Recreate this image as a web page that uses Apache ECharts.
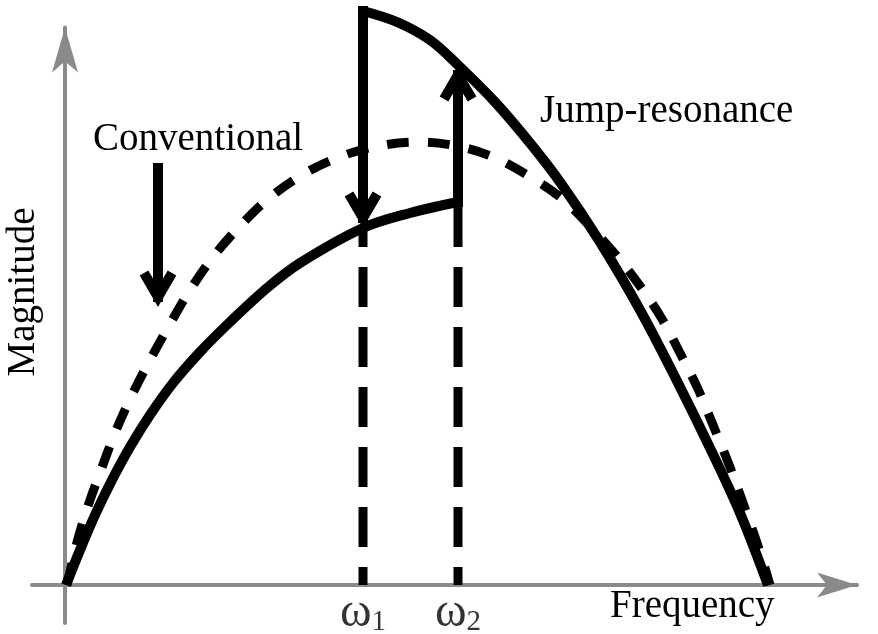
<!DOCTYPE html>
<html>
<head>
<meta charset="utf-8">
<script src="https://cdn.jsdelivr.net/npm/echarts@6/dist/echarts.min.js"></script>
<style>
  html, body { margin: 0; padding: 0; background: #fff; }
  #chart { width: 878px; height: 634px; }
</style>
</head>
<body>
<div id="chart"></div>
<script>
// Frequency response sketch: conventional vs. jump-resonance magnitude curves.
// Units are arbitrary (frequency along x, magnitude along y).

// Jump frequencies ω1 and ω2 and their subscripts
const jumpFrequencies = [298, 393];
const jumpSubscripts = ['1', '2'];

// Conventional response (dashed)
const conventional = [
  [2, 0], [8, 26], [14, 50], [24, 82], [36, 115], [50, 152], [67, 190], [85, 225],
  [105, 261], [125, 295], [148, 328], [175, 359], [203, 386], [237, 410], [272, 427],
  [308, 438], [352, 443], [392, 439], [428, 428], [462, 410], [495, 388], [522, 362],
  [550, 331], [575, 299], [597, 266], [615, 232], [633, 196], [648, 160], [663, 123],
  [677, 85], [690, 48], [700, 17], [705, 0]
];

// Jump-resonance response, lower branch (rising, up to ω2)
const jumpLower = [
  [1, 0], [15, 35], [30, 70], [47, 105], [65, 138], [85, 170], [108, 202], [135, 233],
  [165, 263], [202, 297], [235, 322], [298, 357], [345, 372], [393, 383]
];

// Jump-resonance response, upper branch (from ω1, falling)
const jumpUpper = [
  [298, 574], [332, 563], [365, 545], [393, 520], [430, 483], [465, 442], [495, 403],
  [535, 343], [575, 275], [610, 208], [645, 137], [675, 72], [703, 0]
];

// Pointer under the "Conventional" label: [x, yStart, x, yEnd]
const conventionalPointer = [93, 417, 93, 278];

const valueAt = (curve, x) => curve.find(p => p[0] === x)[1];
const w1 = jumpFrequencies[0];
const w2 = jumpFrequencies[1];

// Jump arrows: drop at ω1 (upper -> lower), rise at ω2 (lower -> upper)
const arrows = [
  conventionalPointer,
  [w1, valueAt(jumpUpper, w1), w1, valueAt(jumpLower, w1)],
  [w2, valueAt(jumpLower, w2), w2, valueAt(jumpUpper, w2)]
];

const SERIF = '"Liberation Serif", "Times New Roman", serif';
const INK = '#000';
const AXIS = '#8a8a8a';

function arrowItem(params, api) {
  const a = api.coord([api.value(0), api.value(1)]);
  const b = api.coord([api.value(2), api.value(3)]);
  const dx = b[0] - a[0], dy = b[1] - a[1];
  const len = Math.hypot(dx, dy);
  const ux = dx / len, uy = dy / len;
  const nx = -uy, ny = ux;
  const tip = [b[0] - ux * 10, b[1] - uy * 10];
  const back = 24, half = 14;
  const p1 = [tip[0] - ux * back + nx * half, tip[1] - uy * back + ny * half];
  const p2 = [tip[0] - ux * back - nx * half, tip[1] - uy * back - ny * half];
  return {
    type: 'group',
    children: [
      { type: 'line', shape: { x1: a[0], y1: a[1], x2: tip[0], y2: tip[1] },
        style: { stroke: INK, lineWidth: 10, lineCap: 'square' } },
      { type: 'polyline', shape: { points: [p1, tip, p2] },
        style: { stroke: INK, fill: null, lineWidth: 10, lineJoin: 'miter', lineCap: 'butt' } }
    ]
  };
}

function verticalGuide(x, yTop, offset) {
  return {
    type: 'line',
    data: [[x, yTop], [x, 0]],
    showSymbol: false,
    silent: true,
    clip: false,
    lineStyle: { color: INK, width: 9, type: [40, 20], dashOffset: offset, cap: 'butt' },
    z: 3
  };
}

function curve(name, data, style, z) {
  return {
    name: name,
    type: 'line',
    data: data,
    smooth: 0.35,
    showSymbol: false,
    silent: true,
    clip: false,
    lineStyle: Object.assign({ color: INK, cap: 'butt', join: 'round' }, style),
    z: z
  };
}

const chart = echarts.init(document.getElementById('chart'), null, { renderer: 'canvas' });

chart.setOption({
  animation: false,
  backgroundColor: '#fff',
  grid: { left: 32, right: 21, top: 27.5, bottom: 11, containLabel: false, outerBoundsMode: 'none' },
  xAxis: {
    type: 'value',
    min: -33,
    max: 792,
    axisLine: {
      onZero: true,
      symbol: ['none', 'arrow'],
      symbolSize: [18.75, 40],
      lineStyle: { color: AXIS, width: 4 }
    },
    axisTick: { show: false },
    splitLine: { show: false },
    axisLabel: { show: false }
  },
  yAxis: {
    type: 'value',
    min: -38,
    max: 557.5,
    axisLine: {
      onZero: true,
      symbol: ['none', 'arrow'],
      symbolSize: [19.5, 45],
      lineStyle: { color: AXIS, width: 4 }
    },
    axisTick: { show: false },
    splitLine: { show: false },
    axisLabel: { show: false }
  },
  series: [
    curve('Conventional', conventional, { width: 9, type: [22, 19] }, 2),
    verticalGuide(w1, valueAt(jumpLower, w1), 21),
    verticalGuide(w2, valueAt(jumpLower, w2), 55),
    curve('Jump-resonance (lower)', jumpLower, { width: 10 }, 4),
    curve('Jump-resonance (upper)', jumpUpper, { width: 10 }, 4),
    {
      name: 'Arrows',
      type: 'custom',
      data: arrows,
      renderItem: arrowItem,
      encode: { x: [0, 2], y: [1, 3] },
      clip: false,
      silent: true,
      z: 5
    },
    {
      name: 'Jump frequencies',
      type: 'scatter',
      data: jumpFrequencies.map((f, i) => [f, 0, i]),
      symbolSize: 0,
      silent: true,
      clip: false,
      label: {
        show: true,
        position: 'bottom',
        distance: 4,
        formatter: p => '{w|ω}{s|' + jumpSubscripts[p.data[2]] + '}',
        rich: {
          w: { fontFamily: SERIF, fontSize: 48, lineHeight: 48, color: INK, verticalAlign: 'middle' },
          s: { fontFamily: SERIF, fontSize: 29, lineHeight: 18, color: INK, verticalAlign: 'bottom' }
        }
      },
      z: 6
    }
  ],
  graphic: [
    { type: 'text', x: 93, y: 140, style: { text: 'Conventional', fontFamily: SERIF, fontSize: 39, fill: INK, align: 'left', verticalAlign: 'middle' } },
    { type: 'text', x: 540, y: 112, style: { text: 'Jump-resonance', fontFamily: SERIF, fontSize: 39, fill: INK, align: 'left', verticalAlign: 'middle' } },
    { type: 'text', x: 610, y: 607, style: { text: 'Frequency', fontFamily: SERIF, fontSize: 39, fill: INK, align: 'left', verticalAlign: 'middle' } },
    { type: 'text', x: 24, y: 292, rotation: Math.PI / 2, style: { text: 'Magnitude', fontFamily: SERIF, fontSize: 39, fill: INK, align: 'center', verticalAlign: 'middle' } }
  ]
});
</script>
</body>
</html>
